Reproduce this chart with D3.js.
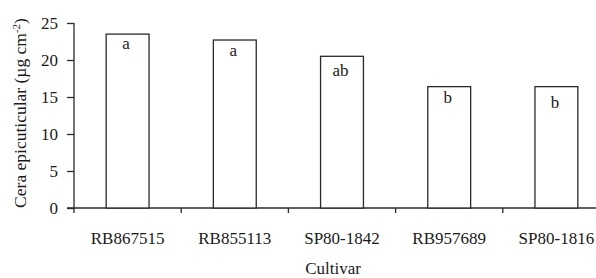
<!DOCTYPE html>
<html>
<head>
<meta charset="utf-8">
<script src="https://cdn.jsdelivr.net/npm/d3@7"></script>
<style>
  body { margin: 0; background: #fff; }
  svg text { font-family: "Liberation Serif", "Times New Roman", serif; fill: #1a1a1a; }
</style>
</head>
<body>
<svg id="chart" width="596" height="278"></svg>
<script>
// data
const cultivars = ["RB867515", "RB855113", "SP80-1842", "RB957689", "SP80-1816"];
const waxValues = [23.5, 22.7, 20.5, 16.4, 16.4];
const letters = ["a", "a", "ab", "b", "b"];
const yTicks = [0, 5, 10, 15, 20, 25];
const letterDy = [15, 16, 20, 16, 21];

const svg = d3.select("#chart");
const ink = "#2a2a2a";
const fontSize = 17;

// scales
const x = d3.scaleBand()
  .domain(cultivars)
  .range([74, 610])
  .paddingInner(0.6)
  .paddingOuter(0.3);

const y = d3.scaleLinear()
  .domain([0, 25])
  .range([208, 23]);

// y axis
const yAxis = svg.append("g")
  .attr("transform", "translate(74,0)")
  .call(d3.axisLeft(y).tickValues(yTicks).tickSize(7).tickPadding(9));
yAxis.select(".domain").attr("stroke", ink).attr("stroke-width", 1.3).attr("d", "M0,23V208");
yAxis.selectAll(".tick line").attr("stroke", ink).attr("stroke-width", 1.3);
yAxis.selectAll(".tick text")
  .style("font-size", fontSize + "px")
  .style("font-family", "Liberation Serif, serif")
  .attr("fill", "#1a1a1a");

// x axis line + boundary ticks
const xAxis = svg.append("g");
xAxis.append("line")
  .attr("x1", 67).attr("x2", 610)
  .attr("y1", y(0)).attr("y2", y(0))
  .attr("stroke", ink).attr("stroke-width", 1.3);

const bounds = d3.range(cultivars.length).map(i => x.range()[0] + i * x.step());
xAxis.selectAll(".btick")
  .data(bounds)
  .enter()
  .append("line")
    .attr("class", "btick")
    .attr("x1", d => d).attr("x2", d => d)
    .attr("y1", y(0)).attr("y2", y(0) + 5)
    .attr("stroke", ink).attr("stroke-width", 1.3);

xAxis.selectAll(".xlabel")
  .data(cultivars)
  .enter()
  .append("text")
    .attr("class", "xlabel")
    .attr("x", d => x(d) + x.bandwidth() / 2)
    .attr("y", 244)
    .attr("text-anchor", "middle")
    .style("font-size", fontSize + "px")
    .text(d => d);

// bars
const rows = cultivars.map((c, i) => ({ name: c, value: waxValues[i], letter: letters[i], dy: letterDy[i] }));

svg.selectAll(".bar")
  .data(rows)
  .enter()
  .append("rect")
    .attr("class", "bar")
    .attr("x", d => x(d.name))
    .attr("y", d => y(d.value))
    .attr("width", x.bandwidth())
    .attr("height", d => y(0) - y(d.value))
    .attr("fill", "#fff")
    .attr("stroke", ink)
    .attr("stroke-width", 1.3);

svg.selectAll(".letter")
  .data(rows)
  .enter()
  .append("text")
    .attr("class", "letter")
    .attr("x", d => x(d.name) + x.bandwidth() / 2 - 1.5)
    .attr("y", d => y(d.value) + d.dy)
    .attr("text-anchor", "middle")
    .style("font-size", fontSize + "px")
    .text(d => d.letter);

// axis titles
svg.append("text")
  .attr("x", 333)
  .attr("y", 274)
  .attr("text-anchor", "middle")
  .style("font-size", fontSize + "px")
  .text("Cultivar");

const yTitle = svg.append("text")
  .attr("transform", "translate(26,113) rotate(-90)")
  .attr("text-anchor", "middle")
  .style("font-size", "17.5px");
yTitle.append("tspan").text("Cera epicuticular (µg cm");
yTitle.append("tspan").attr("dy", -6).style("font-size", "11px").text("-2");
yTitle.append("tspan").attr("dy", 6).text(")");
</script>
</body>
</html>
